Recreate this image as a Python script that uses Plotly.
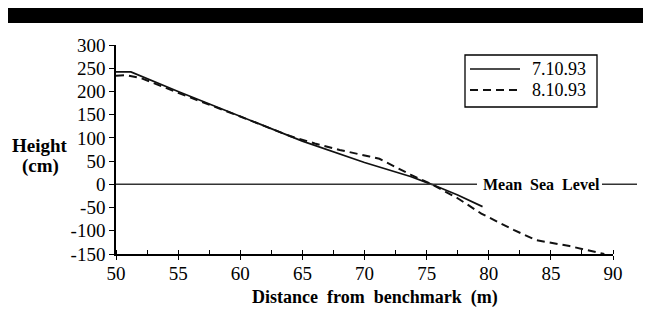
import plotly.graph_objects as go

# Data
dist_7 = [50, 51.2, 55, 60, 65, 70, 71.5, 73.7, 75.4, 77.5, 79.5]
height_7 = [242, 242, 200, 146, 93, 47, 35, 17, 0, -23, -48]

dist_8 = [50, 50.8, 52, 55, 60, 64, 66, 68, 70.4, 71.2, 73.7, 75.4, 77.5, 79.4, 82, 83.8, 86.5, 89.3]
height_8 = [234, 235, 229, 197, 146, 104, 88, 74, 60, 55, 21, 0, -30, -63, -98, -120, -133, -150]

series_names = ["7.10.93", "8.10.93"]
x_tick_vals = [50, 55, 60, 65, 70, 75, 80, 85, 90]
x_tick_text = ["50", "55", "60", "65", "70", "75", "80", "85", "90"]
y_tick_vals = [300, 250, 200, 150, 100, 50, 0, -50, -100, -150]
y_tick_text = ["300", "250", "200", "150", "100", "50", "0", "-50", "-100", "-150"]
sea_level = 0
sea_label = "Mean\u00a0 Sea\u00a0 Level"
x_title = "Distance\u00a0 from\u00a0 benchmark\u00a0 (m)"

x_range = [50, 90]
y_range = [-150, 300]

serif = "Liberation Serif, Times New Roman, serif"

line_color = "#111"
fig = go.Figure()
fig.add_trace(go.Scatter(x=dist_7, y=height_7, mode="lines", name=series_names[0],
                         line=dict(color=line_color, width=1.7), showlegend=False))
fig.add_trace(go.Scatter(x=dist_8, y=height_8, mode="lines", name=series_names[1],
                         line=dict(color=line_color, width=2, dash="8px,5px"), showlegend=False))

OFF = 8  # page body margin
W, H = 651 - OFF, 318 - OFF
L, T = 116 - OFF, 45 - OFF
pw, ph = 497, 209
R, B = W - L - pw, H - T - ph

def px_x(p):  # p in reference window pixels
    return (p - OFF - L) / pw

def px_y(p):
    return (T + ph - (p - OFF)) / ph

sea_paper = (sea_level - y_range[0]) / (y_range[1] - y_range[0])

shapes = [
    # black bar across top
    dict(type="rect", xref="paper", yref="paper", x0=px_x(7), x1=px_x(652),
         y0=px_y(23), y1=px_y(5), fillcolor="black", line=dict(width=0), layer="above"),
    # mean sea level line
    dict(type="line", xref="paper", yref="paper", x0=0, x1=px_x(477),
         y0=sea_paper, y1=sea_paper, line=dict(color="#333", width=1.5)),
    dict(type="line", xref="paper", yref="paper", x0=px_x(602), x1=px_x(637),
         y0=sea_paper, y1=sea_paper, line=dict(color="#333", width=1.5)),
    # legend box
    dict(type="rect", xref="paper", yref="paper", x0=px_x(465), x1=px_x(597),
         y0=px_y(107), y1=px_y(55), line=dict(color="black", width=1.3),
         fillcolor="white"),
    dict(type="line", xref="paper", yref="paper", x0=px_x(470), x1=px_x(520),
         y0=px_y(69), y1=px_y(69), line=dict(color=line_color, width=1.6)),
    dict(type="line", xref="paper", yref="paper", x0=px_x(470), x1=px_x(520),
         y0=px_y(90), y1=px_y(90), line=dict(color=line_color, width=2, dash="8px,5px")),
]

annotations = [
    dict(text="<b>" + sea_label + "</b>", xref="paper", yref="paper",
         x=px_x(541), y=sea_paper, showarrow=False, xanchor="center", yanchor="middle",
         font=dict(family=serif, size=16, color="black")),
    dict(text="<b>Height</b>", xref="paper", yref="paper", x=px_x(40), y=px_y(145),
         showarrow=False, xanchor="center", yanchor="middle",
         font=dict(family=serif, size=19, color="black")),
    dict(text="<b>(cm)</b>", xref="paper", yref="paper", x=px_x(40), y=px_y(166),
         showarrow=False, xanchor="center", yanchor="middle",
         font=dict(family=serif, size=19, color="black")),
    dict(text="<b>" + x_title + "</b>", xref="paper", yref="paper",
         x=px_x(375), y=px_y(297), showarrow=False, xanchor="center", yanchor="middle",
         font=dict(family=serif, size=18, color="black")),
    dict(text=series_names[0], xref="paper", yref="paper", x=px_x(530), y=px_y(69),
         showarrow=False, xanchor="left", yanchor="middle",
         font=dict(family=serif, size=18, color="black")),
    dict(text=series_names[1], xref="paper", yref="paper", x=px_x(530), y=px_y(90),
         showarrow=False, xanchor="left", yanchor="middle",
         font=dict(family=serif, size=18, color="black")),
]

fig.update_layout(
    width=W, height=H,
    margin=dict(l=L, r=R, t=T, b=B),
    paper_bgcolor="white", plot_bgcolor="white",
    showlegend=False,
    shapes=shapes,
    annotations=annotations,
    font=dict(family=serif, color="black"),
)

fig.update_xaxes(range=x_range, tickvals=x_tick_vals, ticktext=x_tick_text,
                 ticks="outside", ticklen=4, ticklabelstandoff=-3,
                 tickwidth=1.3, tickcolor="black", showline=True, linecolor="black",
                 linewidth=1.5, showgrid=False, zeroline=False,
                 tickfont=dict(family=serif, size=19, color="black"),
                 minor=dict(dtick=2.5, ticks="inside", ticklen=4, tickcolor="black", tickwidth=1.2))
fig.update_yaxes(range=y_range, tickvals=y_tick_vals, ticktext=y_tick_text,
                 ticks="outside", ticklen=5,
                 tickwidth=1.3, tickcolor="black", showline=True, linecolor="black",
                 linewidth=1.5, showgrid=False, zeroline=False,
                 tickfont=dict(family=serif, size=19, color="black"))

fig.write_html("out.html")
